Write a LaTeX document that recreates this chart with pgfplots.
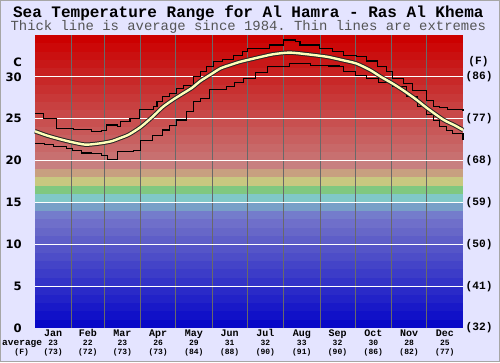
\documentclass[border=0pt]{standalone}
\usepackage{pgfplots}
\pgfplotsset{compat=1.18}
\usepackage{fontspec}
\setmonofont{Liberation Mono}
\newfontfamily\dv{DejaVu Sans}
\definecolor{bgc}{RGB}{228,228,255}
\definecolor{avgc}{RGB}{255,255,185}
\definecolor{subc}{RGB}{85,85,85}
\definecolor{vgrid}{RGB}{105,105,105}
\begin{document}
\begin{tikzpicture}[x=1pt,y=1pt]
\fill[bgc] (0,0) rectangle (500,362);
\draw[gray!70, line width=0.8pt] (0.4,0.4) rectangle (499.6,361.6);
\node[anchor=base, inner sep=0pt, font=\ttfamily\bfseries\fontsize{16}{16}\selectfont] at (248.3,344.7) {Sea Temperature Range for Al Hamra - Ras Al Khema};
\node[anchor=base, inner sep=0pt, text=subc, font=\ttfamily\fontsize{13.9}{14}\selectfont] at (248.3,331) {Thick line is average since 1984. Thin lines are extremes};
\begin{axis}[
  at={(35pt,34pt)}, anchor=south west,
  width=428pt, height=293pt, scale only axis,
  xmin=0, xmax=365, ymin=0, ymax=35,
  clip=false,
  axis line style={draw=none},
  major tick length=0pt,
  ytick={0,5,10,15,20,25,30},
  yticklabels={0,5,10,15,20,25,30},
  yticklabel style={font=\dv\bfseries\fontsize{11.6}{13}\selectfont, anchor=east, inner sep=0pt, xshift=-13pt},
  xtick={15.5,45,74.5,105,135.5,166,196.5,227.5,258,288.5,319,349.5},
  xticklabels={Jan,Feb,Mar,Apr,May,Jun,Jul,Aug,Sep,Oct,Nov,Dec},
  xticklabel style={font=\ttfamily\bfseries\fontsize{10}{10}\selectfont, anchor=base, inner sep=0pt, yshift=-8.7pt},
  /pgf/number format/assume math mode=true,
]
\pgfplotsextra{%
  \foreach \t/\r/\g/\b in {0/8/8/200,1/17/17/200,2/25/25/200,3/34/34/200,4/42/42/200,5/51/51/200,6/60/60/200,7/68/68/200,8/77/77/200,9/85/85/200,10/94/94/200,11/103/103/200,12/111/111/202,13/116/124/204,14/120/160/200,15/128/200/200,16/128/200/128,17/200/200/128,18/200/160/128,19/200/128/128,20/200/112/112,21/200/104/104,22/200/96/96,23/200/88/88,24/200/80/80,25/200/72/72,26/200/64/64,27/200/56/56,28/200/48/48,29/200/40/40,30/200/32/32,31/200/24/24,32/202/16/16,33/204/8/8,34/204/0/0}{%
    \definecolor{bandc}{RGB}{\r,\g,\b}%
    \pgfmathsetmacro{\tn}{\t+1}%
    \fill[bandc] (axis cs:0,\t) rectangle (axis cs:365,\tn);
  }%
  \foreach \d in {31,59,90,120,151,181,212,243,273,304,334}{%
    \draw[vgrid, line width=0.8pt] (axis cs:\d,0) -- (axis cs:\d,35);
  }%
  \foreach \y in {5,10,15,20,25,30}{%
    \draw[white, line width=1.2pt] (axis cs:0,\y) -- (axis cs:365,\y);
  }%
}
% maximum
\addplot[black, line width=1.1pt, const plot] coordinates {
(0,25.65) (7,25.05) (18,23.85) (33,23.7) (48,23.45) (57,23.6) (61,24.25) (70,24.05) (73,24.65) (81,25.05) (89,26.05) (101,26.45) (104,27.05) (109,27.65) (115,28.0) (121,28.6) (127,29.0) (135,30.0) (141,30.6) (146,31.2) (152,31.8) (160,32.1) (169,32.6) (177,33.0) (181,33.4) (200,33.8) (212,34.4) (222,34.2) (226,33.8) (243,33.4) (254,33.0) (263,32.6) (274,32.4) (283,31.9) (292,31.2) (300,30.6) (305,29.8) (314,29.2) (322,28.4) (334,27.2) (340,26.5) (345,26.3) (352,26.05) (365,26.0)
};
% minimum
\addplot[black, line width=1.1pt, const plot] coordinates {
(0,22.05) (8,21.9) (16,21.7) (27,21.45) (32,21.2) (40,20.9) (48,20.8) (57,20.65) (62,20.15) (70,21.05) (84,21.25) (90,22.45) (100,23.0) (109,23.65) (115,24.2) (121,24.85) (129,25.85) (135,27.05) (141,27.45) (149,28.45) (163,28.85) (170,29.3) (178,29.8) (188,30.5) (198,31.2) (217,31.6) (235,31.4) (250,31.3) (260,31.2) (263,30.6) (273,30.2) (283,29.8) (293,29.3) (305,28.8) (317,27.6) (326,26.5) (334,25.45) (340,24.8) (345,24.05) (351,23.6) (356,23.25) (365,22.45)
};
% average
\pgfplotstableread{
day avg
0 23.5
10 23.0
20 22.6
30 22.25
43 21.9
55 22.05
65 22.3
72 22.65
80 23.1
90 24.0
100 25.2
109 26.4
118 27.3
126 28.0
134 28.7
141 29.5
150 30.3
158 31.0
166 31.4
175 31.8
190 32.3
203 32.7
217 32.9
232 32.7
249 32.4
262 32.0
274 31.6
286 30.8
295 30.0
305 29.2
315 28.3
325 27.3
334 26.3
348 24.9
358 24.2
365 23.65
}\avgtable
\addplot[black!85, line width=4.4pt, smooth, tension=0.4] table[x=day,y=avg] {\avgtable};
\addplot[avgc, line width=2.4pt, smooth, tension=0.4] table[x=day,y=avg] {\avgtable};
\pgfplotsextra{%
  \foreach \x/\c/\f in {15.5/23/73,45/22/72,74.5/23/73,105/26/73,135.5/29/84,166/31/88,196.5/32/90,227.5/33/91,258/32/90,288.5/30/86,319/28/82,349.5/25/77}{%
    \node[anchor=base, inner sep=0pt, font=\ttfamily\bfseries\fontsize{8}{8}\selectfont, yshift=-17.7pt] at (axis cs:\x,0) {\c};
    \node[anchor=base, inner sep=0pt, font=\ttfamily\bfseries\fontsize{8}{8}\selectfont, yshift=-26.3pt] at (axis cs:\x,0) {(\f)};
  }%
  \foreach \y/\f in {0/32,5/41,10/50,15/59,20/68,25/77,30/86}{%
    \node[anchor=west, inner sep=0pt, font=\ttfamily\bfseries\fontsize{11.2}{12}\selectfont, xshift=2.5pt] at (axis cs:365,\y) {(\f)};
  }%
  \node[anchor=center, inner sep=0pt, font=\ttfamily\bfseries\fontsize{11.2}{12}\selectfont, xshift=15.5pt] at (axis cs:365,31.8) {(F)};
  \node[anchor=east, inner sep=0pt, font=\dv\bfseries\fontsize{11.6}{13}\selectfont, xshift=-13pt] at (axis cs:0,31.8) {C};
}
\end{axis}
\node[anchor=base, inner sep=0pt, font=\ttfamily\bfseries\fontsize{9.5}{10}\selectfont] at (22.2,16.3) {average};
\node[anchor=base, inner sep=0pt, font=\ttfamily\bfseries\fontsize{8}{8}\selectfont] at (21.7,8) {(F)};
\end{tikzpicture}
\end{document}
